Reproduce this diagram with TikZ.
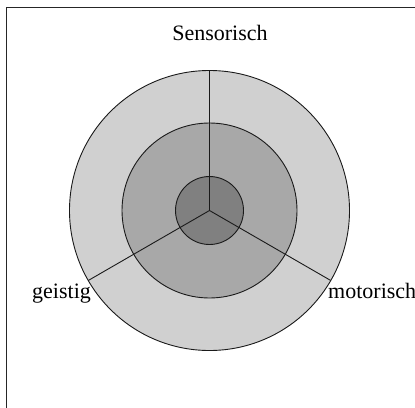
\documentclass[tikz,border=0pt]{standalone}
\usepackage{fontspec}
\setmainfont{Liberation Serif}
\definecolor{ringouter}{HTML}{D0D0D0}
\definecolor{ringmid}{HTML}{A8A8A8}
\definecolor{ringinner}{HTML}{808080}
\definecolor{edge}{HTML}{1A1A1A}
\begin{document}
\begin{tikzpicture}[x=1pt,y=-1pt,
  ring/.style={circle, draw=edge, line width=0.9pt, inner sep=0pt, outer sep=0pt},
  spoke/.style={draw=edge, line width=0.9pt},
  lbl/.style={font=\fontsize{22}{26}\selectfont, inner sep=0pt}]
  \useasboundingbox (0,0) rectangle (415,407);
  \clip (0,0) rectangle (415,407);
  % surrounding frame (only its left and top edges fall inside the page)
  \draw[black!85, line width=1pt] (6.5,7) rectangle (440,430);
  % concentric rings
  \coordinate (c) at (209.5,210.5);
  \node[ring, fill=ringouter, minimum size=280pt] (outer) at (c) {};
  \node[ring, fill=ringmid, minimum size=175pt] (mid) at (c) {};
  \node[ring, fill=ringinner, minimum size=68pt] (inner) at (c) {};
  % three sectors
  \draw[spoke] (c) -- (outer.90);
  \draw[spoke] (c) -- (outer.210);
  \draw[spoke] (c) -- (outer.330);
  % labels
  \node[lbl, anchor=base] (sens) at (220,40) {Sensorisch};
  \node[lbl, anchor=base west] (geist) at (32,298) {geistig};
  \node[lbl, anchor=base west] (motor) at (328,298) {motorisch};
\end{tikzpicture}
\end{document}
